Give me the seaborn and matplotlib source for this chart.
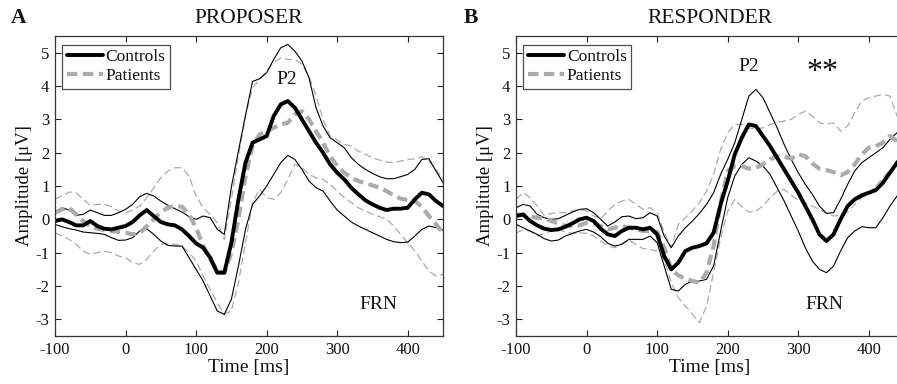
import numpy as np
import pandas as pd
import matplotlib
matplotlib.use("Agg")
import matplotlib.pyplot as plt
import seaborn as sns

# ---------------- data ----------------
time_ms = list(range(-100, 451, 10))

# Panel A: PROPOSER
a_ctrl_mean = [-0.05, 0.0, -0.08, -0.18, -0.18, -0.05, -0.2, -0.28, -0.3, -0.25, -0.2, -0.08, 0.12, 0.28, 0.1,
               -0.08, -0.15, -0.18, -0.3, -0.5, -0.72, -0.85, -1.15, -1.6, -1.6, -0.7, 0.6, 1.7, 2.3, 2.4,
               2.5, 3.1, 3.45, 3.55, 3.35, 3.0, 2.65, 2.3, 2.0, 1.65, 1.4, 1.2, 0.95, 0.75, 0.57,
               0.45, 0.35, 0.28, 0.32, 0.32, 0.35, 0.6, 0.8, 0.75, 0.55, 0.4]
a_ctrl_upper = [0.22, 0.35, 0.28, 0.12, 0.15, 0.28, 0.2, 0.12, 0.12, 0.2, 0.3, 0.45, 0.68, 0.78, 0.7,
                0.55, 0.42, 0.32, 0.22, 0.08, 0.0, 0.1, 0.05, -0.3, -0.45, 0.97, 2.05, 3.12, 4.14, 4.22,
                4.4, 4.8, 5.15, 5.25, 5.05, 4.75, 4.25, 3.35, 2.8, 2.45, 2.3, 2.15, 1.85, 1.65, 1.5,
                1.38, 1.28, 1.22, 1.22, 1.28, 1.35, 1.5, 1.8, 1.82, 1.45, 1.1]
a_ctrl_lower = [-0.15, -0.22, -0.28, -0.32, -0.38, -0.4, -0.42, -0.45, -0.55, -0.63, -0.62, -0.55, -0.35, -0.28, -0.45,
                -0.65, -0.78, -0.8, -0.8, -1.15, -1.5, -1.85, -2.3, -2.75, -2.85, -2.4, -1.4, -0.3, 0.45, 0.7,
                1.0, 1.35, 1.7, 1.92, 1.8, 1.5, 1.15, 0.95, 0.85, 0.55, 0.28, 0.1, -0.08, -0.2, -0.3,
                -0.4, -0.5, -0.6, -0.67, -0.7, -0.68, -0.5, -0.3, -0.2, -0.25, -0.32]
a_pat_mean = [0.2, 0.3, 0.35, 0.15, -0.05, -0.2, -0.28, -0.32, -0.35, -0.38, -0.4, -0.45, -0.42, -0.2, 0.0,
              0.22, 0.35, 0.4, 0.38, 0.15, -0.25, -0.8, -1.2, -1.55, -1.6, -1.0, 0.0, 1.3, 2.2, 2.55,
              2.65, 2.75, 2.85, 2.9, 3.15, 3.25, 3.0, 2.65, 2.3, 1.9, 1.6, 1.4, 1.25, 1.15, 1.08,
              1.02, 0.95, 0.85, 0.72, 0.62, 0.58, 0.55, 0.38, 0.1, -0.15, -0.4]
a_pat_upper = [0.62, 0.7, 0.82, 0.8, 0.6, 0.42, 0.45, 0.45, 0.38, 0.25, 0.2, 0.28, 0.4, 0.65, 0.95,
               1.25, 1.45, 1.55, 1.55, 1.3, 0.7, 0.35, 0.15, -0.1, -0.6, 0.6, 1.9, 3.1, 3.95, 4.2,
               4.45, 4.7, 4.85, 4.8, 4.8, 4.65, 4.3, 3.7, 3.0, 2.5, 2.38, 2.25, 2.2, 2.05, 1.95,
               1.85, 1.78, 1.72, 1.7, 1.75, 1.8, 1.82, 1.88, 1.75, 1.5, 1.2]
a_pat_lower = [-0.4, -0.5, -0.6, -0.75, -0.95, -1.05, -1.0, -0.95, -1.0, -1.1, -1.15, -1.3, -1.35, -1.2, -0.95,
               -0.75, -0.72, -0.75, -0.8, -1.0, -1.25, -1.7, -2.1, -2.5, -2.85, -2.75, -1.9, -0.7, 0.5, 0.9,
               0.65, 0.6, 0.8, 1.2, 1.65, 1.55, 1.35, 1.25, 1.2, 1.05, 0.85, 0.65, 0.5, 0.35, 0.25,
               0.15, 0.08, 0.0, -0.2, -0.45, -0.7, -0.95, -1.25, -1.55, -1.7, -1.65]

# Panel B: RESPONDER
b_ctrl_mean = [0.1, 0.15, -0.05, -0.18, -0.28, -0.32, -0.3, -0.22, -0.12, 0.0, 0.05, -0.05, -0.28, -0.45, -0.5,
               -0.35, -0.25, -0.25, -0.3, -0.25, -0.45, -1.1, -1.5, -1.3, -0.95, -0.85, -0.8, -0.72, -0.4, 0.45,
               1.15, 1.95, 2.45, 2.85, 2.8, 2.5, 2.2, 1.85, 1.5, 1.15, 0.8, 0.4, 0.0, -0.45, -0.65,
               -0.45, 0.0, 0.4, 0.6, 0.72, 0.8, 0.88, 1.1, 1.4, 1.7, 1.95]
b_ctrl_upper = [0.35, 0.45, 0.4, 0.15, 0.05, 0.0, 0.02, 0.12, 0.22, 0.3, 0.32, 0.2, 0.0, -0.2, -0.08,
                0.08, 0.1, 0.02, 0.05, 0.2, 0.1, -0.5, -0.85, -0.5, -0.25, -0.05, 0.18, 0.45, 0.8, 1.35,
                1.8, 2.3, 3.0, 3.7, 3.9, 3.65, 3.2, 2.75, 2.25, 1.8, 1.4, 1.05, 0.75, 0.4, 0.18,
                0.2, 0.6, 1.05, 1.45, 1.7, 1.85, 2.0, 2.15, 2.4, 2.6, 2.75]
b_ctrl_lower = [-0.15, -0.25, -0.35, -0.45, -0.58, -0.65, -0.62, -0.5, -0.42, -0.35, -0.3, -0.38, -0.52, -0.72, -0.8,
                -0.75, -0.6, -0.6, -0.6, -0.5, -0.7, -1.4, -2.1, -2.15, -1.95, -1.85, -1.85, -1.8, -1.4, -0.35,
                0.65, 1.3, 1.65, 1.85, 1.75, 1.6, 1.35, 0.95, 0.55, 0.1, -0.35, -0.85, -1.25, -1.5, -1.6,
                -1.4, -0.95, -0.55, -0.35, -0.22, -0.25, -0.25, 0.05, 0.4, 0.7, 0.95]
b_pat_mean = [0.15, 0.12, 0.08, 0.05, 0.02, -0.05, -0.12, -0.2, -0.2, -0.18, -0.1, -0.12, -0.2, -0.3, -0.25,
              -0.2, -0.25, -0.3, -0.35, -0.35, -0.38, -0.85, -1.5, -1.68, -1.78, -1.85, -1.9, -1.6, -0.8, 0.5,
              1.45, 1.6, 1.6, 1.52, 1.55, 1.65, 1.8, 1.9, 1.88, 1.82, 1.95, 1.9, 1.68, 1.52, 1.48,
              1.42, 1.32, 1.42, 1.65, 1.95, 2.15, 2.2, 2.3, 2.5, 2.35, 2.2]
b_pat_upper = [0.6, 0.8, 0.65, 0.4, 0.12, 0.18, 0.2, 0.2, 0.25, 0.3, 0.25, 0.1, 0.02, 0.25, 0.45,
               0.55, 0.6, 0.45, 0.3, 0.35, 0.2, -0.4, -0.85, -0.15, 0.05, 0.25, 0.5, 0.85, 1.35, 2.1,
               2.6, 2.85, 2.85, 2.75, 2.7, 2.75, 2.85, 2.9, 2.95, 3.0, 3.15, 3.25, 3.1, 2.9, 2.85,
               2.9, 2.65, 2.8, 3.2, 3.55, 3.65, 3.7, 3.75, 3.7, 3.1, 2.7]
b_pat_lower = [-0.4, -0.32, -0.35, -0.5, -0.42, -0.35, -0.3, -0.38, -0.42, -0.4, -0.42, -0.5, -0.65, -0.8, -0.85,
               -0.72, -0.62, -0.75, -0.88, -0.9, -0.95, -1.2, -1.9, -2.35, -2.6, -2.85, -3.1, -2.6, -1.6, -0.55,
               0.25, 0.6, 0.38, 0.22, 0.25, 0.4, 0.65, 0.85, 0.9, 0.72, 0.58, 0.48, 0.4, 0.3, 0.18,
               0.1, 0.12, 0.22, 0.45, 0.65, 0.8, 1.0, 1.25, 1.5, 1.6, 1.65]

panel_titles = ["PROPOSER", "RESPONDER"]
panel_letters = ["A", "B"]
x_ticks = [-100, 0, 100, 200, 300, 400]
y_ticks = [-3, -2, -1, 0, 1, 2, 3, 4, 5]

# ---------------- style ----------------
sns.set_style("ticks")
plt.rcParams["font.family"] = ["Liberation Serif", "DejaVu Serif"]
plt.rcParams["axes.unicode_minus"] = False

BLACK = "#000000"
GRAY = "#ababab"
TXT = "#111111"

fig = plt.figure(figsize=(8.97, 3.84), dpi=100)
axA = fig.add_axes([0.0613, 0.125, 0.4326, 0.781])
axB = fig.add_axes([0.5753, 0.125, 0.4326, 0.781])

panels = [
    (axA, a_ctrl_mean, a_ctrl_upper, a_ctrl_lower, a_pat_mean, a_pat_upper, a_pat_lower),
    (axB, b_ctrl_mean, b_ctrl_upper, b_ctrl_lower, b_pat_mean, b_pat_upper, b_pat_lower),
]

for i, (ax, cm, cu, cl, pm, pu, pl) in enumerate(panels):
    df = pd.DataFrame({"t": time_ms, "cm": cm, "cu": cu, "cl": cl,
                       "pm": pm, "pu": pu, "pl": pl})
    for col in ["pu", "pl"]:
        sns.lineplot(data=df, x="t", y=col, ax=ax, color=GRAY, linewidth=0.9,
                     linestyle=(0, (6, 3)), legend=False)
    for col in ["cu", "cl"]:
        sns.lineplot(data=df, x="t", y=col, ax=ax, color=BLACK, linewidth=0.8,
                     legend=False)
    sns.lineplot(data=df, x="t", y="pm", ax=ax, color=GRAY, linewidth=3.0,
                 linestyle=(0, (2.5, 1.3)), label="Patients")
    sns.lineplot(data=df, x="t", y="cm", ax=ax, color=BLACK, linewidth=2.8,
                 label="Controls")

    ax.set_xlim(-100, 450)
    ax.set_ylim(-3.5, 5.5)
    ax.set_xticks(x_ticks)
    ax.set_yticks(y_ticks)
    ax.tick_params(direction="in", top=True, right=True, length=4, width=0.8,
                   labelsize=12, colors="#222222", labelcolor=TXT, pad=4)
    for sp in ax.spines.values():
        sp.set_visible(True)
        sp.set_linewidth(0.9)
        sp.set_color("#333333")
    ax.set_xlabel("Time [ms]", fontsize=14, labelpad=1, color=TXT)
    ax.set_ylabel("Amplitude [\u03bcV]", fontsize=13.5, labelpad=2, color=TXT)

    h, l = ax.get_legend_handles_labels()
    order = [l.index("Controls"), l.index("Patients")]
    leg = ax.legend([h[k] for k in order], [l[k] for k in order], loc="upper left",
                    bbox_to_anchor=(0.01, 0.982), fontsize=12.5, frameon=True,
                    fancybox=False, edgecolor="#222222", handlelength=2.1,
                    handletextpad=0.15, borderpad=0.25, labelspacing=0.15,
                    borderaxespad=0.2)
    leg.get_frame().set_linewidth(0.9)
    for t in leg.get_texts():
        t.set_color(TXT)

    fig.text([0.2776, 0.7915][i], 0.953, panel_titles[i], ha="center", va="center",
             fontsize=15.5, color=TXT)
    fig.text([0.0205, 0.525][i], 0.953, panel_letters[i], ha="center", va="center",
             fontsize=15.5, fontweight="bold", color=TXT)

axA.text(229, 4.2, "P2", ha="center", va="center", fontsize=14, color=TXT)
axA.text(358, -2.55, "FRN", ha="center", va="center", fontsize=14, color=TXT)
axB.text(230, 4.6, "P2", ha="center", va="center", fontsize=14, color=TXT)
axB.text(334, 4.4, "**", ha="center", va="center", fontsize=23, color=TXT)
axB.text(337, -2.55, "FRN", ha="center", va="center", fontsize=14, color=TXT)

fig.savefig("out.png", dpi=100)
